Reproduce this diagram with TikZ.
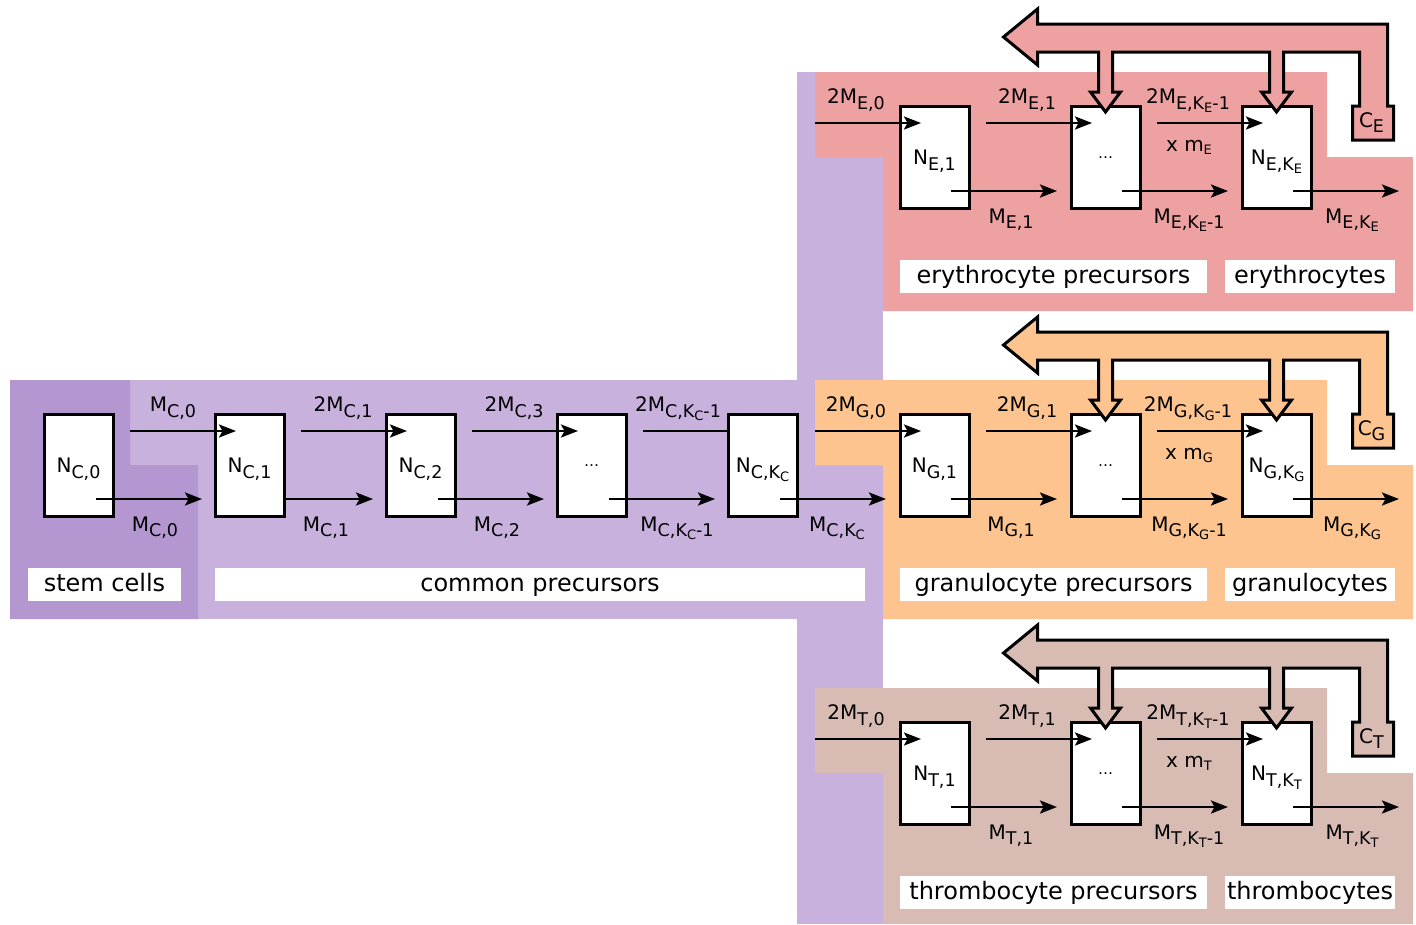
\documentclass[tikz,border=0pt]{standalone}
\usepackage{fontspec}
\setmainfont{DejaVu Sans}
\usetikzlibrary{arrows.meta, positioning}
\definecolor{stemfill}{HTML}{B497D1}
\definecolor{commonfill}{HTML}{C8B1DD}
\definecolor{erythfill}{HTML}{EDA1A1}
\definecolor{granfill}{HTML}{FDC490}
\definecolor{thrombfill}{HTML}{D8BCB4}
\newcommand{\qtyfont}{\fontsize{20}{22}\selectfont}
\newcommand{\tagfont}{\fontsize{24}{26}\selectfont}
\newcommand{\subsc}[1]{\raisebox{-5.5pt}{\fontsize{17.5}{18}\selectfont #1}}
\newcommand{\subsubsc}[1]{\raisebox{-3pt}{\fontsize{13}{13}\selectfont #1}}
\newcommand{\dotsbox}{\raisebox{6pt}{\fontsize{15}{15}\selectfont\ldots}}

\begin{document}
\begin{tikzpicture}[x=1pt, y=-1pt,
      cell/.style={draw, fill=white, line width=3pt, outer sep=0pt, inner sep=0pt,
                   minimum width=69pt, minimum height=102pt, text height=15pt, text depth=0pt, font=\qtyfont},
      flowline/.style={line width=2.6pt},
      flow/.style={flowline, -{Stealth[length=17pt, width=13pt, inset=3.5pt]}},
      qty/.style={font=\qtyfont, anchor=base, inner sep=0pt},
      tag/.style={fill=white, font=\tagfont, inner sep=0pt, outer sep=0pt, minimum height=33pt,
                  text height=18pt, text depth=4pt},
      fbloop/.pic={\draw[line width=3pt, fill=#1] (-102,-69) -- (-68,-97) -- (-68,-82) -- (282,-82)
                   -- (282,0) -- (288,0) -- (288,34) -- (247,34) -- (247,0) -- (254,0) -- (254,-54)
                   -- (178,-54) -- (178,-14) -- (186,-14) -- (171,6) -- (156,-14) -- (164,-14) -- (164,-54)
                   -- (7,-54) -- (7,-14) -- (15,-14) -- (0,6) -- (-15,-14) -- (-7,-14) -- (-7,-54)
                   -- (-68,-54) -- (-68,-41) -- cycle;}
    ]
    \useasboundingbox (0,0) rectangle (1416,924);

    % compartments
    \fill[commonfill] (130,380) rectangle (883,619);
    \fill[commonfill] (797,72) rectangle (883,924);
    \fill[stemfill] (10,380) -- (130,380) -- (130,465) -- (198,465) -- (198,619) -- (10,619) -- cycle;
    \fill[erythfill] (815,72) -- (1327,72) -- (1327,157) -- (1413,157) -- (1413,311) -- (883,311) -- (883,157) -- (815,157) -- cycle;
    \fill[granfill] (815,380) -- (1327,380) -- (1327,465) -- (1413,465) -- (1413,619) -- (883,619) -- (883,465) -- (815,465) -- cycle;
    \fill[thrombfill] (815,688) -- (1327,688) -- (1327,773) -- (1413,773) -- (1413,924) -- (883,924) -- (883,773) -- (815,773) -- cycle;

    % stem cells and common precursors
    \node[cell] (c0) at (78.5,465) {N\subsc{C,0}};
    \node[cell, right=102pt of c0] (c1) {N\subsc{C,1}};
    \node[cell, right=102pt of c1] (c2) {N\subsc{C,2}};
    \node[cell, right=102pt of c2] (c3) {\dotsbox};
    \node[cell, right=102pt of c3] (cK) {N\subsc{C,K\subsubsc{C}}};

    % lineages
    \node[cell, right=103pt of cK] (g1) {N\subsc{G,1}};
    \node[cell, right=102pt of g1] (g2) {\dotsbox};
    \node[cell, right=102pt of g2] (g3) {N\subsc{G,K\subsubsc{G}}};
    \node[cell, above=206pt of g1] (e1) {N\subsc{E,1}};
    \node[cell, right=102pt of e1] (e2) {\dotsbox};
    \node[cell, right=102pt of e2] (e3) {N\subsc{E,K\subsubsc{E}}};
    \node[cell, below=206pt of g1] (t1) {N\subsc{T,1}};
    \node[cell, right=102pt of t1] (t2) {\dotsbox};
    \node[cell, right=102pt of t2] (t3) {N\subsc{T,K\subsubsc{T}}};

    \node[tag, minimum width=153pt, below right=52pt and -16pt of c0.south west] (stemtag) {stem cells};
    \node[tag, minimum width=650pt, below right=52pt and 0pt of c1.south west] (commontag) {common precursors};
    \node[tag, minimum width=307pt, below right=52pt and 0pt of e1.south west] (eprectag) {erythrocyte precursors};
    \node[tag, minimum width=170pt, below right=52pt and -17pt of e3.south west] (etag) {erythrocytes};
    \node[tag, minimum width=307pt, below right=52pt and 0pt of g1.south west] (gprectag) {granulocyte precursors};
    \node[tag, minimum width=170pt, below right=52pt and -17pt of g3.south west] (gtag) {granulocytes};
    \node[tag, minimum width=307pt, below right=52pt and 0pt of t1.south west] (tprectag) {thrombocyte precursors};
    \node[tag, minimum width=170pt, below right=52pt and -17pt of t3.south west] (ttag) {thrombocytes};

    % fluxes, common
    \draw[flow] ([shift={(17,17)}]c0.north east) -- ([shift={(21,17)}]c1.north west);
    \draw[flow] ([shift={(17,17)}]c1.north east) -- ([shift={(21,17)}]c2.north west);
    \draw[flow] ([shift={(17,17)}]c2.north east) -- ([shift={(21,17)}]c3.north west);
    \draw[flowline] ([shift={(17,17)}]c3.north east) -- ([shift={(0,17)}]cK.north west);
    \draw[flow] ([shift={(52,85)}]c0.north west) -- ([shift={(-13,85)}]c1.north west);
    \draw[flow] ([shift={(0,85)}]c1.north east) -- ([shift={(-13,85)}]c2.north west);
    \draw[flow] ([shift={(52,85)}]c2.north west) -- ([shift={(-13,85)}]c3.north west);
    \draw[flow] ([shift={(52,85)}]c3.north west) -- ([shift={(-13,85)}]cK.north west);
    \draw[flow] ([shift={(52,85)}]cK.north west) -- ([shift={(-14,85)}]g1.north west);
    \node[qty] (inC1) at ([shift={(-42,-2.5)}]c1.north west) {M\subsc{C,0}};
    \node[qty] (inC2) at ([shift={(-43,-2.5)}]c2.north west) {2M\subsc{C,1}};
    \node[qty] (inC3) at ([shift={(-43,-2.5)}]c3.north west) {2M\subsc{C,3}};
    \node[qty] (inCK) at ([shift={(-50,-2.5)}]cK.north west) {2M\subsc{C,K\subsubsc{C}-1}};
    \node[qty] (outC0) at ([shift={(42,15)}]c0.south east) {M\subsc{C,0}};
    \node[qty] (outC1) at ([shift={(42,15)}]c1.south east) {M\subsc{C,1}};
    \node[qty] (outC2) at ([shift={(42,15)}]c2.south east) {M\subsc{C,2}};
    \node[qty] (outC3) at ([shift={(51,15)}]c3.south east) {M\subsc{C,K\subsubsc{C}-1}};
    \node[qty] (outCK) at ([shift={(40,15)}]cK.south east) {M\subsc{C,K\subsubsc{C}}};

    % fluxes, erythrocytes
    \draw[flow] ([shift={(-85,17)}]e1.north west) -- ([shift={(21,17)}]e1.north west);
    \draw[flow] ([shift={(17,17)}]e1.north east) -- ([shift={(21,17)}]e2.north west);
    \draw[flow] ([shift={(17,17)}]e2.north east) -- ([shift={(21,17)}]e3.north west);
    \draw[flow] ([shift={(51,85)}]e1.north west) -- ([shift={(-14,85)}]e2.north west);
    \draw[flow] ([shift={(51,85)}]e2.north west) -- ([shift={(-14,85)}]e3.north west);
    \draw[flow] ([shift={(51,85)}]e3.north west) -- ([shift={(157,85)}]e3.north west);
    \node[qty] (inE1) at ([shift={(-44,-2.5)}]e1.north west) {2M\subsc{E,0}};
    \node[qty] (inE2) at ([shift={(-44,-2.5)}]e2.north west) {2M\subsc{E,1}};
    \node[qty] (inE3) at ([shift={(-54,-2.5)}]e3.north west) {2M\subsc{E,K\subsubsc{E}-1}};
    \node[qty] (ampE) at ([shift={(-53,45)}]e3.north west) {x m\subsubsc{E}};
    \node[qty] (outE1) at ([shift={(42,15)}]e1.south east) {M\subsc{E,1}};
    \node[qty] (outE2) at ([shift={(49,15)}]e2.south east) {M\subsc{E,K\subsubsc{E}-1}};
    \node[qty] (outE3) at ([shift={(41,15)}]e3.south east) {M\subsc{E,K\subsubsc{E}}};

    % fluxes, granulocytes
    \draw[flow] ([shift={(-85,17)}]g1.north west) -- ([shift={(21,17)}]g1.north west);
    \draw[flow] ([shift={(17,17)}]g1.north east) -- ([shift={(21,17)}]g2.north west);
    \draw[flow] ([shift={(17,17)}]g2.north east) -- ([shift={(21,17)}]g3.north west);
    \draw[flow] ([shift={(51,85)}]g1.north west) -- ([shift={(-14,85)}]g2.north west);
    \draw[flow] ([shift={(51,85)}]g2.north west) -- ([shift={(-14,85)}]g3.north west);
    \draw[flow] ([shift={(51,85)}]g3.north west) -- ([shift={(157,85)}]g3.north west);
    \node[qty] (inG1) at ([shift={(-44,-2.5)}]g1.north west) {2M\subsc{G,0}};
    \node[qty] (inG2) at ([shift={(-44,-2.5)}]g2.north west) {2M\subsc{G,1}};
    \node[qty] (inG3) at ([shift={(-54,-2.5)}]g3.north west) {2M\subsc{G,K\subsubsc{G}-1}};
    \node[qty] (ampG) at ([shift={(-53,45)}]g3.north west) {x m\subsubsc{G}};
    \node[qty] (outG1) at ([shift={(42,15)}]g1.south east) {M\subsc{G,1}};
    \node[qty] (outG2) at ([shift={(49,15)}]g2.south east) {M\subsc{G,K\subsubsc{G}-1}};
    \node[qty] (outG3) at ([shift={(41,15)}]g3.south east) {M\subsc{G,K\subsubsc{G}}};

    % fluxes, thrombocytes
    \draw[flow] ([shift={(-85,17)}]t1.north west) -- ([shift={(21,17)}]t1.north west);
    \draw[flow] ([shift={(17,17)}]t1.north east) -- ([shift={(21,17)}]t2.north west);
    \draw[flow] ([shift={(17,17)}]t2.north east) -- ([shift={(21,17)}]t3.north west);
    \draw[flow] ([shift={(51,85)}]t1.north west) -- ([shift={(-14,85)}]t2.north west);
    \draw[flow] ([shift={(51,85)}]t2.north west) -- ([shift={(-14,85)}]t3.north west);
    \draw[flow] ([shift={(51,85)}]t3.north west) -- ([shift={(157,85)}]t3.north west);
    \node[qty] (inT1) at ([shift={(-44,-2.5)}]t1.north west) {2M\subsc{T,0}};
    \node[qty] (inT2) at ([shift={(-44,-2.5)}]t2.north west) {2M\subsc{T,1}};
    \node[qty] (inT3) at ([shift={(-54,-2.5)}]t3.north west) {2M\subsc{T,K\subsubsc{T}-1}};
    \node[qty] (ampT) at ([shift={(-53,45)}]t3.north west) {x m\subsubsc{T}};
    \node[qty] (outT1) at ([shift={(42,15)}]t1.south east) {M\subsc{T,1}};
    \node[qty] (outT2) at ([shift={(49,15)}]t2.south east) {M\subsc{T,K\subsubsc{T}-1}};
    \node[qty] (outT3) at ([shift={(41,15)}]t3.south east) {M\subsc{T,K\subsubsc{T}}};

    % feedback from mature cells
    \pic at (e2.north) {fbloop=erythfill};
    \pic at (g2.north) {fbloop=granfill};
    \pic at (t2.north) {fbloop=thrombfill};
    \node[qty] (cE) at ([shift={(266,21)}]e2.north) {C\subsc{E}};
    \node[qty] (cG) at ([shift={(266,21)}]g2.north) {C\subsc{G}};
    \node[qty] (cT) at ([shift={(266,21)}]t2.north) {C\subsc{T}};
  \end{tikzpicture}
\end{document}
